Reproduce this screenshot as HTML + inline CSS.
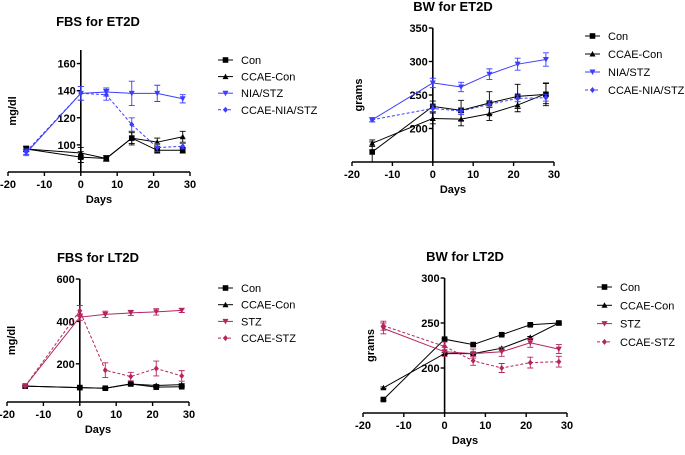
<!DOCTYPE html>
<html><head><meta charset="utf-8"><style>
body{margin:0;background:#fff;width:685px;height:450px;overflow:hidden}
svg{font-family:"Liberation Sans",Arial,sans-serif}
</style></head><body>
<svg id="s" width="685" height="450"></svg>
<script>
const days=[-15,0,7,14,21,28];
// Panel A: FBS ET2D
const aCon=[97,91,90,105,96,96], aCcaeCon=[97,94,90,105,102,106], aNia=[94,138,139,138,138,134], aCcaeNia=[95,138,137,115,98,99];
const aErrCon=[2,4,2,4,2,2], aErrCcaeCon=[2,4,2,5,3,4], aErrNia=[2,5,3,9,6,3], aErrCcaeNia=[2,5,4,5,3,2];
const aYTicks=[100,120,140,160];
// Panel B: BW ET2D
const bCon=[165,233,227,238,248,251], bCcaeCon=[178,215,214,222,235,252], bNia=[213,268,262,281,296,303], bCcaeNia=[213,230,226,236,245,246];
const bErrCon=[15,8,15,17,18,17], bErrCcaeCon=[5,8,10,10,10,15], bErrNia=[3,7,7,8,9,10], bErrCcaeNia=[3,5,5,5,5,5];
const bYTicks=[200,250,300,350];
// Panel C: FBS LT2D
const cCon=[95,88,85,105,90,92], cCcaeCon=[95,88,85,105,98,102], cStz=[95,420,433,440,445,452], cCcaeStz=[95,450,170,140,178,143];
const cErrCon=[3,3,3,5,3,3], cErrCcaeCon=[3,3,3,5,4,4], cErrStz=[3,15,15,12,15,10], cErrCcaeStz=[3,25,35,20,35,25];
const cYTicks=[200,400,600];
// Panel D: BW LT2D
const dCon=[165,232,226,237,248,250], dCcaeCon=[178,216,216,222,234,250], dStz=[244,218,216,218,228,221], dCcaeStz=[247,224,208,200,206,207];
const dErrCon=[1,1,1,1,1,1], dErrCcaeCon=[1,1,1,1,1,1], dErrStz=[6,5,5,5,5,5], dErrCcaeStz=[5,5,5,5,6,6];
const dYTicks=[200,250,300];
const xTicks=[-20,-10,0,10,20,30];

const NS='http://www.w3.org/2000/svg', svg=document.getElementById('s');
function el(t,a,p){const e=document.createElementNS(NS,t);for(const k in a)e.setAttribute(k,a[k]);(p||svg).appendChild(e);return e;}
const BLUE='#3d3dff', MAG='#b5245e';

function panel(cfg){
  const g=el('g',{});
  
  
  const xs=v=>cfg.x0+(v-(-20))*(cfg.x1-cfg.x0)/50;
  const ys=v=>cfg.yb-(v-cfg.ymin)*(cfg.yb-cfg.yt)/(cfg.ymax-cfg.ymin);
  const zx=xs(0);
  // axes
  const xa=el('line',{x1:cfg.x0,x2:cfg.x1,y1:cfg.yb,y2:cfg.yb,stroke:'#000','stroke-width':1.6},g);
  
  
  const ya=el('line',{x1:zx,x2:zx,y1:cfg.yt,y2:cfg.yb,stroke:'#000','stroke-width':1.6},g);
  
  
  xTicks.forEach(t=>{
    el('line',{x1:xs(t),x2:xs(t),y1:cfg.yb,y2:cfg.yb+4,stroke:'#000','stroke-width':1.4},g);
    const tx=el('text',{x:xs(t),y:cfg.yb+16,'text-anchor':'middle','font-size':11,'font-weight':'bold'},g);
    tx.textContent=t;
    
    
  });
  cfg.yTicks.forEach(t=>{
    el('line',{x1:zx-4,x2:zx,y1:ys(t),y2:ys(t),stroke:'#000','stroke-width':1.4},g);
    const tx=el('text',{x:zx-5,y:ys(t)+4,'text-anchor':'end','font-size':11,'font-weight':'bold'},g);
    tx.textContent=t;
    
    
  });
  const ti=el('text',{x:cfg.tx,y:cfg.ty,'text-anchor':'middle','font-size':13,'font-weight':'bold'},g);
  ti.textContent=cfg.title;
  
  
  const xl=el('text',{x:(cfg.x0+cfg.x1)/2,y:cfg.yb+31,'text-anchor':'middle','font-size':11,'font-weight':'bold'},g);
  xl.textContent='Days';
  
  
  const yl=el('text',{x:0,y:0,'text-anchor':'middle','font-size':11,'font-weight':'bold',transform:`translate(${cfg.ylx},${(cfg.yt+cfg.yb)/2}) rotate(-90)`},g);
  yl.textContent=cfg.ylabel;
  
  
  cfg.series.forEach((s,i)=>{
    const sg=el('g',{},g);
    
    
    const dash=s.dash?'3,2':'none';
    el('polyline',{points:days.map((d,j)=>xs(d)+','+ys(s.v[j])).join(' '),fill:'none',stroke:s.c,'stroke-width':1,'stroke-dasharray':dash},sg);
    days.forEach((d,j)=>{
      const x=xs(d),y1=ys(s.v[j]-s.e[j]),y2=ys(s.v[j]+s.e[j]);
      el('path',{d:`M${x},${y1}V${y2}M${x-3},${y1}H${x+3}M${x-3},${y2}H${x+3}`,stroke:s.c,'stroke-width':0.9,fill:'none'},sg);
      const m=marker(s.m,x,ys(s.v[j]),s.c,sg);
      
      
    });
    // legend
    const ly=cfg.ly+i*cfg.ld;
    const lg=el('g',{},g);
    
    
    el('line',{x1:cfg.lx,x2:cfg.lx+15,y1:ly,y2:ly,stroke:s.c,'stroke-width':1,'stroke-dasharray':dash},lg);
    marker(s.m,cfg.lx+7.5,ly,s.c,lg);
    const lt=el('text',{x:cfg.lx+23,y:ly+4,'font-size':11},lg);
    lt.textContent=s.label;
  });
}
function marker(t,x,y,c,p){
  if(t==='sq')return el('rect',{x:x-2.8,y:y-2.8,width:5.6,height:5.6,fill:c},p);
  if(t==='up')return el('path',{d:`M${x},${y-3}L${x+3},${y+2.5}L${x-3},${y+2.5}Z`,fill:c},p);
  if(t==='dn')return el('path',{d:`M${x},${y+3}L${x+3},${y-2.5}L${x-3},${y-2.5}Z`,fill:c},p);
  return el('path',{d:`M${x},${y-3}L${x+2.5},${y}L${x},${y+3}L${x-2.5},${y}Z`,fill:c},p);
}
panel({name:'chart-fbs-et2d',x0:8,x1:190,yt:50,yb:172,ymin:80,ymax:170,yTicks:aYTicks,title:'FBS for ET2D',tx:98,ty:26,ylabel:'mg/dl',ylx:16,lx:218,ly:60,ld:16.6,
  series:[{label:'Con',v:aCon,e:aErrCon,c:'#000',m:'sq'},{label:'CCAE-Con',v:aCcaeCon,e:aErrCcaeCon,c:'#000',m:'up'},{label:'NIA/STZ',v:aNia,e:aErrNia,c:BLUE,m:'dn'},{label:'CCAE-NIA/STZ',v:aCcaeNia,e:aErrCcaeNia,c:BLUE,m:'dm',dash:1}]});
panel({name:'chart-bw-et2d',x0:352,x1:554,yt:28,yb:162,ymin:150,ymax:350,yTicks:bYTicks,title:'BW for ET2D',tx:453,ty:11,ylabel:'grams',ylx:362,lx:585,ly:36,ld:18,
  series:[{label:'Con',v:bCon,e:bErrCon,c:'#000',m:'sq'},{label:'CCAE-Con',v:bCcaeCon,e:bErrCcaeCon,c:'#000',m:'up'},{label:'NIA/STZ',v:bNia,e:bErrNia,c:BLUE,m:'dn'},{label:'CCAE-NIA/STZ',v:bCcaeNia,e:bErrCcaeNia,c:BLUE,m:'dm',dash:1}]});
panel({name:'chart-fbs-lt2d',x0:7,x1:189,yt:279,yb:402,ymin:20,ymax:600,yTicks:cYTicks,title:'FBS for LT2D',tx:98,ty:262,ylabel:'mg/dl',ylx:15,lx:218,ly:288,ld:16.7,
  series:[{label:'Con',v:cCon,e:cErrCon,c:'#000',m:'sq'},{label:'CCAE-Con',v:cCcaeCon,e:cErrCcaeCon,c:'#000',m:'up'},{label:'STZ',v:cStz,e:cErrStz,c:MAG,m:'dn'},{label:'CCAE-STZ',v:cCcaeStz,e:cErrCcaeStz,c:MAG,m:'dm',dash:1}]});
panel({name:'chart-bw-lt2d',x0:363,x1:567,yt:278,yb:413,ymin:150,ymax:300,yTicks:dYTicks,title:'BW for LT2D',tx:465,ty:261,ylabel:'grams',ylx:374,lx:597,ly:287,ld:18.3,
  series:[{label:'Con',v:dCon,e:dErrCon,c:'#000',m:'sq'},{label:'CCAE-Con',v:dCcaeCon,e:dErrCcaeCon,c:'#000',m:'up'},{label:'STZ',v:dStz,e:dErrStz,c:MAG,m:'dn'},{label:'CCAE-STZ',v:dCcaeStz,e:dErrCcaeStz,c:MAG,m:'dm',dash:1}]});
</script>
</body></html>
